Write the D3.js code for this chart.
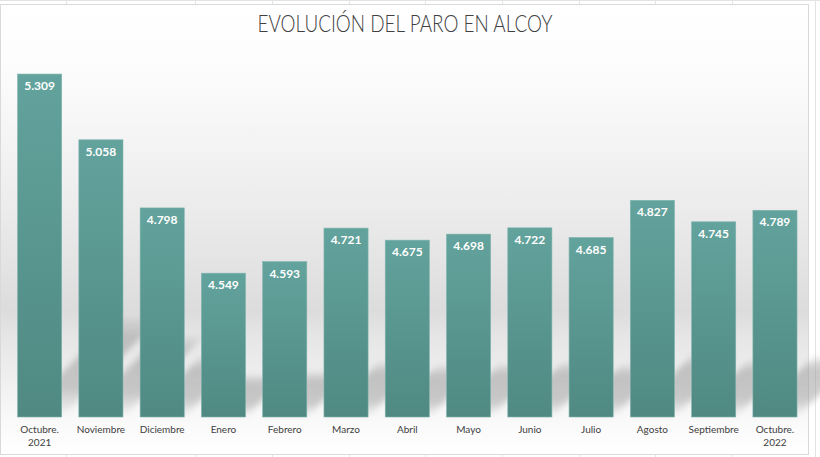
<!DOCTYPE html>
<html><head><meta charset="utf-8">
<script src="https://cdn.jsdelivr.net/npm/d3@7"></script>
<style>body{margin:0;background:#fff;}svg{display:block;}</style>
</head><body>
<script>
const title = "EVOLUCIÓN DEL PARO EN ALCOY";
const categories = ["Octubre.|2021","Noviembre","Diciembre","Enero","Febrero","Marzo","Abril","Mayo","Junio","Julio","Agosto","Septiembre","Octubre.|2022"];
const values = [5309,5058,4798,4549,4593,4721,4675,4698,4722,4685,4827,4745,4789];
const yDomain = [4000, 5500];
const cellLinesX = [66,195,272,349,425,502,579,655,732];

const W = 820, H = 457;
const svg = d3.select("body").append("svg").attr("width", W).attr("height", H);
const defs = svg.append("defs");

// spreadsheet background
svg.append("rect").attr("width", W).attr("height", H).attr("fill", "#fff");
const cg = svg.append("g").attr("stroke", "#e3e3e3").attr("stroke-width", 1);
cellLinesX.forEach(x => {
  cg.append("line").attr("x1", x+0.5).attr("x2", x+0.5).attr("y1", 0).attr("y2", H);
});
cg.append("line").attr("x1",0).attr("x2",W).attr("y1",0.5).attr("y2",0.5);
cg.append("line").attr("x1",815.5).attr("x2",815.5).attr("y1",0).attr("y2",H);

// chart frame with background gradient
const bg = defs.append("linearGradient").attr("id","bg").attr("x1",0).attr("x2",0).attr("y1",0).attr("y2",1);
[[0,"#ffffff"],[0.12,"#fdfdfd"],[0.4,"#efefef"],[0.6,"#e2e2e2"],[0.68,"#dcdcdc"],[0.74,"#e6e6e6"],[0.84,"#f0f0f0"],[0.92,"#f9f9f9"],[1,"#ffffff"]]
  .forEach(([o,c]) => bg.append("stop").attr("offset", o).attr("stop-color", c));
svg.append("rect").attr("x",0.5).attr("y",4.5).attr("width",808).attr("height",450)
  .attr("fill","url(#bg)").attr("stroke","#d9d9d9");

const x = d3.scaleBand().domain(categories).range([9, 805.6]).paddingInner(0.28).paddingOuter(0.14);
const y = d3.scaleLinear().domain(yDomain).range([417, 24]);

// perspective shadows
const blur = defs.append("filter").attr("id","blur").attr("x","-50%").attr("y","-50%").attr("width","200%").attr("height","200%");
blur.append("feGaussianBlur").attr("stdDeviation", 3);
const sg = defs.append("linearGradient").attr("id","sg").attr("x1",0).attr("x2",0).attr("y1",1).attr("y2",0);
[[0,0],[0.3,0.5],[0.8,0.55],[1,0.15]].forEach(([o,a]) =>
  sg.append("stop").attr("offset",o).attr("stop-color","#9c9c9c").attr("stop-opacity",a));
const base = y(yDomain[0]);
svg.append("g").selectAll("path").data(values).join("path")
  .attr("d", (d,i) => {
    const x0 = x(categories[i]), x1 = x0 + x.bandwidth();
    const h = base - y(d);
    const L = 0.29 * h;
    return `M${x0},${base} L${x1},${base} L${x1+L},${base-L} L${x0+L},${base-L} Z`;
  })
  .attr("fill","url(#sg)").attr("filter","url(#blur)");

// bars
const bgrad = defs.append("linearGradient").attr("id","bar").attr("x1",0).attr("x2",0).attr("y1",0).attr("y2",1);
bgrad.append("stop").attr("offset",0).attr("stop-color","#63a39d");
bgrad.append("stop").attr("offset",1).attr("stop-color","#4f8982");
svg.append("g").selectAll("rect").data(values).join("rect")
  .attr("x", (d,i) => x(categories[i]))
  .attr("y", d => y(d))
  .attr("width", x.bandwidth())
  .attr("height", d => base - y(d))
  .attr("fill", "url(#bar)")
  .attr("stroke", "#7fb3ad").attr("stroke-width", 0.6);

// value labels
const fmt = d3.formatLocale({decimal:",", thousands:".", grouping:[3], currency:["",""]}).format(",d");
svg.append("g").selectAll("text").data(values).join("text")
  .attr("x", (d,i) => x(categories[i]) + x.bandwidth()/2)
  .attr("y", d => y(d) + 16)
  .attr("text-anchor","middle")
  .attr("font-family","Lato, 'Open Sans', sans-serif")
  .attr("font-weight","bold").attr("font-size","12px").attr("fill","#ffffff")
  .text(d => fmt(d));

// category labels
const lg = svg.append("g").attr("font-family","Lato, 'Open Sans', sans-serif").attr("font-size","10px").attr("fill","#404040");
categories.forEach(c => {
  const t = lg.append("text").attr("x", x(c) + x.bandwidth()/2).attr("y", 433).attr("text-anchor","middle");
  c.split("|").forEach((line, j) => {
    t.append("tspan").attr("x", x(c) + x.bandwidth()/2).attr("dy", j ? 13 : 0).text(line);
  });
});

// title
svg.append("text").attr("x", 405).attr("y", 32).attr("text-anchor","middle")
  .attr("font-family","Lato, 'Open Sans', sans-serif").attr("font-weight", 300)
  .attr("font-size","23px").attr("fill","#404040")
  .attr("textLength", 295).attr("lengthAdjust","spacingAndGlyphs")
  .text(title);
</script>
</body></html>
